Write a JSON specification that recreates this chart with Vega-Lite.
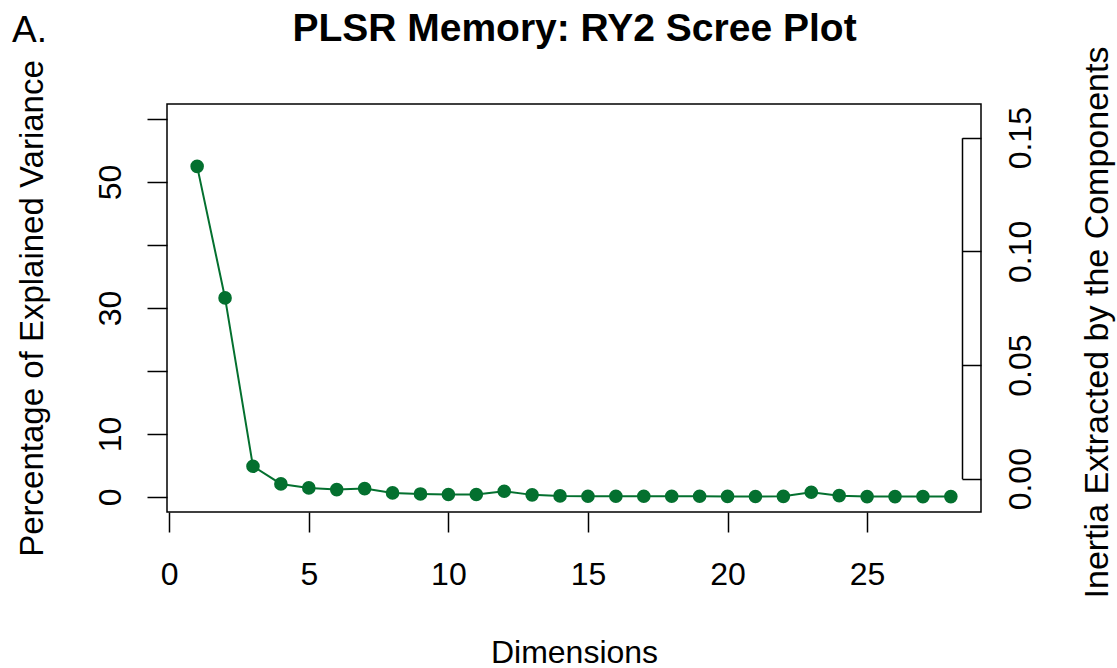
{
  "$schema": "https://vega.github.io/schema/vega-lite/v6.json",
  "width": 814,
  "height": 408,
  "autosize": {"type": "none"},
  "padding": {"left": 167, "top": 104, "right": 136, "bottom": 156},
  "background": "white",
  "title": {
    "text": "A.",
    "anchor": "start",
    "frame": "group",
    "dx": -155,
    "dy": 39,
    "offset": -2,
    "fontSize": 37,
    "fontWeight": "normal",
    "font": "Liberation Sans",
    "color": "black"
  },
  "config": {
    "view": {"stroke": "black", "strokeWidth": 1.5},
    "axis": {
      "labelFont": "Liberation Sans",
      "titleFont": "Liberation Sans",
      "labelColor": "black",
      "titleColor": "black",
      "tickColor": "black",
      "domainColor": "black",
      "tickWidth": 1.5,
      "domainWidth": 1.5,
      "grid": false,
      "labelOverlap": false,
      "labelFlush": false,
      "titleFontWeight": "normal"
    }
  },
  "data": {
    "values": [
      {"dim": 1, "pct": 52.5, "inertia": 0.1418},
      {"dim": 2, "pct": 31.6, "inertia": 0.0853},
      {"dim": 3, "pct": 4.86, "inertia": 0.0131},
      {"dim": 4, "pct": 2.06, "inertia": 0.0056},
      {"dim": 5, "pct": 1.43, "inertia": 0.0039},
      {"dim": 6, "pct": 1.16, "inertia": 0.0031},
      {"dim": 7, "pct": 1.32, "inertia": 0.0036},
      {"dim": 8, "pct": 0.63, "inertia": 0.0017},
      {"dim": 9, "pct": 0.47, "inertia": 0.0013},
      {"dim": 10, "pct": 0.37, "inertia": 0.001},
      {"dim": 11, "pct": 0.37, "inertia": 0.001},
      {"dim": 12, "pct": 0.9, "inertia": 0.0024},
      {"dim": 13, "pct": 0.32, "inertia": 0.0009},
      {"dim": 14, "pct": 0.16, "inertia": 0.0004},
      {"dim": 15, "pct": 0.1, "inertia": 0.0003},
      {"dim": 16, "pct": 0.1, "inertia": 0.0003},
      {"dim": 17, "pct": 0.1, "inertia": 0.0003},
      {"dim": 18, "pct": 0.1, "inertia": 0.0003},
      {"dim": 19, "pct": 0.1, "inertia": 0.0003},
      {"dim": 20, "pct": 0.08, "inertia": 0.0002},
      {"dim": 21, "pct": 0.07, "inertia": 0.0002},
      {"dim": 22, "pct": 0.09, "inertia": 0.0002},
      {"dim": 23, "pct": 0.73, "inertia": 0.002},
      {"dim": 24, "pct": 0.2, "inertia": 0.0005},
      {"dim": 25, "pct": 0.05, "inertia": 0.0001},
      {"dim": 26, "pct": 0.05, "inertia": 0.0001},
      {"dim": 27, "pct": 0.05, "inertia": 0.0001},
      {"dim": 28, "pct": 0.05, "inertia": 0.0001}
    ]
  },
  "layer": [
    {
      "layer": [
        {
          "mark": {"type": "line", "color": "#04702F", "strokeWidth": 2},
          "encoding": {
            "x": {
              "field": "dim",
              "type": "quantitative",
              "scale": {"domain": [-0.08, 29.08], "nice": false, "zero": false},
              "axis": {
                "orient": "bottom",
                "values": [0, 5, 10, 15, 20, 25],
                "domain": false,
                "tickSize": 20,
                "labelPadding": 27,
                "labelFontSize": 32,
                "labelAngle": 0,
                "title": "Dimensions",
                "titleFontSize": 32,
                "titleBaseline": "alphabetic",
                "titleY": 150
              }
            },
            "y": {
              "field": "pct",
              "type": "quantitative",
              "scale": {"domain": [-2.4, 62.4], "nice": false, "zero": false},
              "axis": {
                "orient": "left",
                "values": [0, 10, 20, 30, 40, 50, 60],
                "labelExpr": "(datum.value == 20 || datum.value == 40 || datum.value == 60) ? '' : datum.label",
                "domain": false,
                "tickSize": 20,
                "labelAngle": 270,
                "labelAlign": "center",
                "labelBaseline": "alphabetic",
                "labelPadding": 27,
                "labelFontSize": 32,
                "title": "Percentage of Explained Variance",
                "titleFontSize": 33,
                "titleAngle": 270,
                "titleBaseline": "alphabetic",
                "titleX": -125,
                "titleY": 204
              }
            }
          }
        },
        {
          "mark": {"type": "point", "filled": true, "size": 185, "color": "#04702F", "opacity": 1},
          "encoding": {
            "x": {"field": "dim", "type": "quantitative"},
            "y": {"field": "pct", "type": "quantitative"}
          }
        }
      ]
    },
    {
      "mark": {"type": "point", "opacity": 0},
      "encoding": {
        "x": {
          "field": "dim",
          "type": "quantitative",
          "scale": {"domain": [-0.08, 29.08], "nice": false, "zero": false},
          "axis": {
            "orient": "top",
            "domain": false,
            "ticks": false,
            "labels": false,
            "title": "PLSR Memory: RY2 Scree Plot",
            "titleFontSize": 39,
            "titleFontWeight": "bold",
            "titleBaseline": "alphabetic",
            "titleY": -64
          }
        },
        "y": {
          "field": "inertia",
          "type": "quantitative",
          "scale": {"domain": [0, 0.15], "range": [374.7, 33.7], "nice": false, "zero": false},
          "axis": {
            "orient": "right",
            "offset": -19,
            "values": [0, 0.05, 0.1, 0.15],
            "format": ".2f",
            "domain": true,
            "tickSize": 19,
            "labelAngle": 270,
            "labelAlign": "center",
            "labelBaseline": "alphabetic",
            "labelPadding": 49,
            "labelFontSize": 32,
            "title": "Inertia Extracted by the Components",
            "titleFontSize": 34,
            "titleAngle": 270,
            "titleBaseline": "alphabetic",
            "titleX": 145,
            "titleY": 218
          }
        }
      }
    }
  ],
  "resolve": {"scale": {"x": "independent", "y": "independent"}}
}
